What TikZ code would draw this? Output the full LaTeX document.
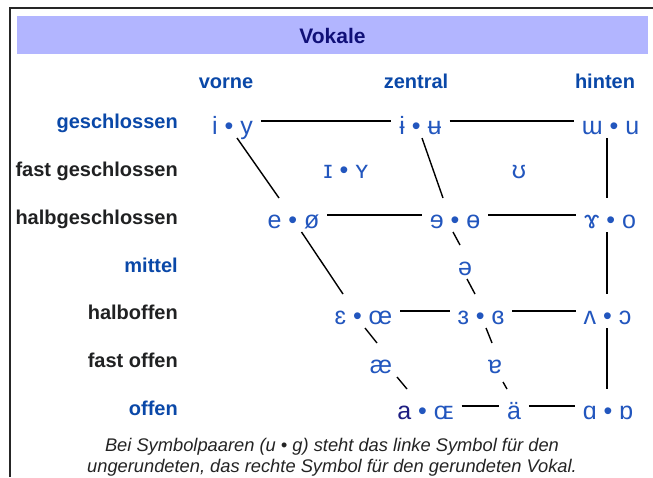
\documentclass[tikz,border=0pt]{standalone}
\usepackage{fontspec}
\setmainfont{Liberation Sans}
\definecolor{titlebg}{RGB}{178,181,255}
\definecolor{titlefg}{RGB}{16,16,120}
\definecolor{linkblue}{RGB}{10,72,168}
\definecolor{labdark}{RGB}{32,33,34}
\definecolor{vowblue}{RGB}{34,86,190}
\definecolor{visited}{RGB}{30,30,130}
\definecolor{capgray}{RGB}{36,36,36}
\begin{document}
\begin{tikzpicture}[x=1pt,y=-1pt,
  vow/.style={text=vowblue, font=\fontsize{25}{30}\selectfont, inner sep=0pt, outer sep=0pt, text height=30pt, text depth=4pt, anchor=center},
  lab/.style={font=\bfseries\fontsize{20}{24}\selectfont, anchor=base east, inner sep=0pt},
  colh/.style={font=\bfseries\fontsize{20}{24}\selectfont, anchor=base, inner sep=0pt, text=linkblue},
  conn/.style={line width=1.4pt, black},
  hconn/.style={conn, shorten <=8pt, shorten >=8pt},
  capt/.style={font=\itshape\fontsize{18.3}{22}\selectfont, text=capgray, anchor=base, inner sep=0pt}]
\useasboundingbox (0,0) rectangle (653,477);
\fill[white] (0,0) rectangle (653,477);
\draw[line width=2pt, black!85] (10,477) -- (10,8) -- (653,8);
\node[fill=titlebg, minimum width=631pt, minimum height=38pt, inner sep=0pt, anchor=north west] (bar) at (17,16) {};
\node[font=\bfseries\fontsize{21}{25}\selectfont, text=titlefg, anchor=base, inner sep=0pt] (title) at (332.5,43.5) {Vokale};
% column headers
\node[colh] (vorne) at (226,88) {vorne};
\node[colh] (zentral) at (416,88) {zentral};
\node[colh] (hinten) at (605,88) {hinten};
% row labels
\node[lab, text=linkblue] (l1) at (178,128) {geschlossen};
\node[lab, text=labdark] (l2) at (178,176) {fast geschlossen};
\node[lab, text=labdark] (l3) at (178,224) {halbgeschlossen};
\node[lab, text=linkblue] (l4) at (178,272) {mittel};
\node[lab, text=labdark] (l5) at (178,319) {halboffen};
\node[lab, text=labdark] (l6) at (178,367) {fast offen};
\node[lab, text=linkblue] (l7) at (178,415) {offen};
% vowels
\node[vow] (iy) at (232.5,121) {i • y};
\node[vow] (iu) at (420.5,121) {ɨ • ʉ};
\node[vow] (wu) at (610.5,121) {ɯ • u};
\node[vow] (IY) at (346,165) {ɪ • ʏ};
\node[vow] (U) at (519,165) {ʊ};
\node[vow] (eo) at (293.5,215) {e • ø};
\node[vow] (EO) at (455,215) {ɘ • ɵ};
\node[vow] (go) at (610,215) {ɤ • o};
\node[vow] (schwa) at (465,262) {ə};
\node[vow] (eoe) at (363.5,311) {ɛ • œ};
\node[vow] (rev) at (481,311) {ɜ • ɞ};
\node[vow] (vo) at (607.5,311) {ʌ • ɔ};
\node[vow] (ae) at (381,360) {æ};
\node[vow] (tur) at (495,360) {ɐ};
\node[vow] (aoe) at (425.5,406) {\textcolor{visited}{a} • ɶ};
\node[vow] (auml) at (514,406) {ä};
\node[vow] (ao) at (608,406) {ɑ • ɒ};
% horizontal connectors
\draw[hconn] (iy) -- (iu);
\draw[hconn] (iu) -- (wu);
\draw[hconn] (eo) -- (EO);
\draw[hconn] (EO) -- (go);
\draw[hconn] (eoe) -- (rev);
\draw[hconn] (rev) -- (vo);
\draw[hconn] (aoe) -- (auml);
\draw[hconn] (auml) -- (ao);
% diagonal connectors
\draw[conn] ([xshift=4.5pt]iy.south) -- ([xshift=-14.5pt]eo.north);
\draw[conn] ([xshift=1.5pt]iu.south) -- ([xshift=-12pt]EO.north);
\draw[conn] ([xshift=8pt]eo.south) -- ([xshift=-20.5pt]eoe.north);
\draw[conn] ([xshift=-2pt]EO.south) -- ([xshift=-5pt]schwa.north);
\draw[conn] ([xshift=2pt]schwa.south) -- ([xshift=-6pt]rev.north);
\draw[conn] ([xshift=1.5pt]eoe.south) -- ([xshift=-4pt]ae.north);
\draw[conn] ([xshift=16pt]ae.south) -- ([xshift=-18.5pt]aoe.north);
\draw[conn] ([xshift=5pt]rev.south) -- ([xshift=-3pt]tur.north);
\draw[conn] ([xshift=8pt,yshift=-5pt]tur.south) -- ([xshift=-7pt]auml.north);
% vertical connectors
\draw[conn] ([xshift=-3.5pt]wu.south) -- ([xshift=-3pt]go.north);
\draw[conn] ([xshift=-3pt]go.south) -- ([xshift=-0.5pt]vo.north);
\draw[conn] ([xshift=-0.5pt]vo.south) -- ([xshift=-1pt]ao.north);
% caption
\node[capt] (cap1) at (332,451) {Bei Symbolpaaren (u • g) steht das linke Symbol für den};
\node[capt] (cap2) at (332,472) {ungerundeten, das rechte Symbol für den gerundeten Vokal.};
\end{tikzpicture}
\end{document}
